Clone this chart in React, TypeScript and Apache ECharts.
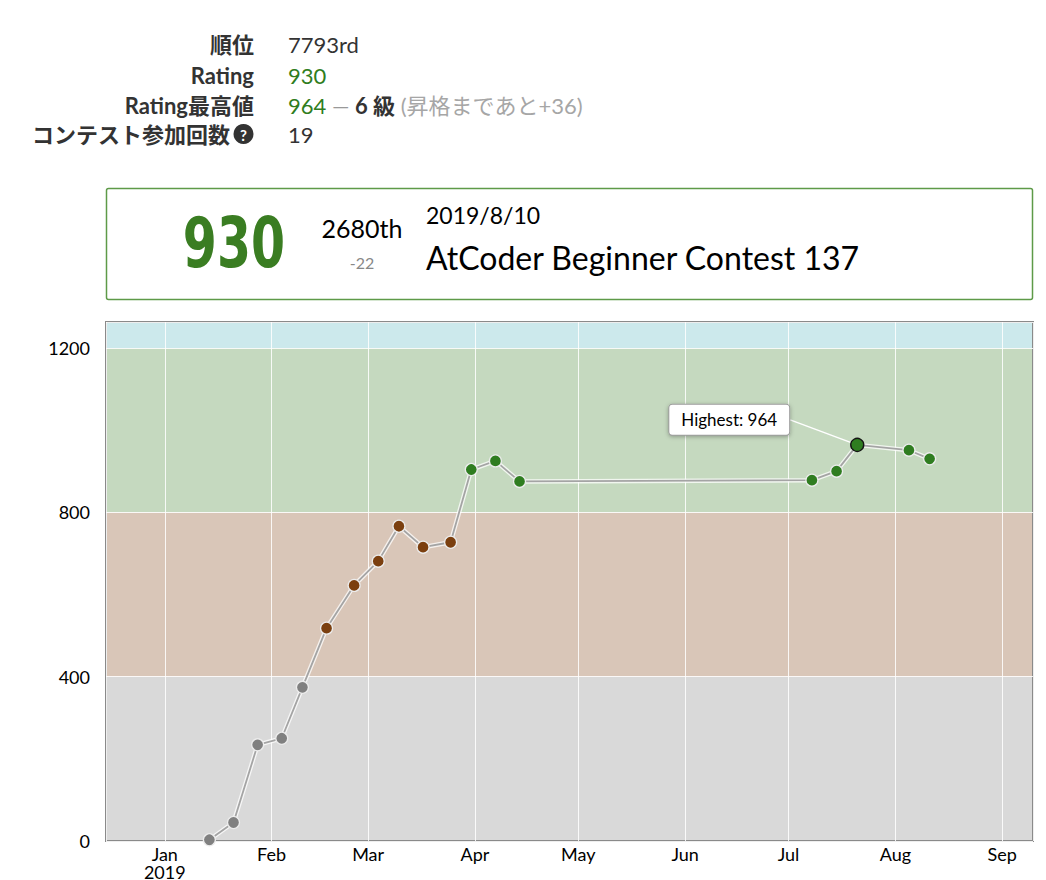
import React, { useEffect, useRef } from "react";
import * as echarts from "echarts";

// ---- data ----
const contestEnds = [
  "2019-01-13T22:40", "2019-01-20T22:40", "2019-01-27T22:40", "2019-02-03T22:40",
  "2019-02-09T22:40", "2019-02-16T22:40", "2019-02-24T22:40", "2019-03-03T22:40",
  "2019-03-09T22:40", "2019-03-16T22:40", "2019-03-24T22:40", "2019-03-30T22:40",
  "2019-04-06T22:40", "2019-04-13T22:40", "2019-07-07T19:00", "2019-07-14T22:40",
  "2019-07-20T22:40", "2019-08-04T22:40", "2019-08-10T22:40",
];
const ratings = [3, 45, 234, 250, 374, 518, 622, 681, 766, 715, 727, 904, 925, 875, 878, 900, 964, 951, 930];
const xRange = ["2018-12-14T22:40", "2019-09-09T22:40"];
const yRange = [0, 1263];
const yTickStep = 400;
const bandBounds = [0, 400, 800, 1200, 1263];
const bandColors = ["#d9d9d9", "#d9c6b8", "#c5d9bf", "#cce9ec"];
const dotColors = ["#808080", "#7b3f0f", "#2f7d20", "#00c0c0"];
const monthNames = ["Jan", "Feb", "Mar", "Apr", "May", "Jun", "Jul", "Aug", "Sep", "Oct", "Nov", "Dec"];

const infoLabels = ["順位", "Rating", "Rating最高値", "コンテスト参加回数"];
const rankText = "7793rd";
const currentRating = 930;
const highestRating = 964;
const kyuText = "6 級";
const toPromotion = 36;
const contestCount = 19;

const lastRating = 930;
const lastPlace = "2680th";
const lastDiff = "-22";
const lastDate = "2019/8/10";
const lastName = "AtCoder Beginner Contest 137";

const FONT = 'Lato, "Noto Sans CJK JP", sans-serif';
const GREEN = "#2f7d20";

function colorFor(v: number) {
  let i = 0;
  while (i < 3 && v >= bandBounds[i + 1]) i++;
  return dotColors[i];
}

export default function App() {
  const ref = useRef<HTMLDivElement>(null);
  useEffect(() => {
    if (!ref.current) return;
    const chart = echarts.init(ref.current, undefined, { renderer: "svg" });
    const hiIdx = ratings.indexOf(Math.max(...ratings));
    const lineData = contestEnds.map((d, i) => [new Date(d).getTime(), ratings[i]]);
    const dotData = contestEnds.map((d, i) => {
      const item: any = {
        value: [new Date(d).getTime(), ratings[i]],
        itemStyle: { color: colorFor(ratings[i]), borderColor: "#ececec", borderWidth: 1.3 },
      };
      if (i === hiIdx) {
        item.symbolSize = 13;
        item.itemStyle = { color: colorFor(ratings[i]), borderColor: "#141414", borderWidth: 1.4 };
        item.label = {
          show: true,
          position: "inside",
          formatter: (p: any) => "Highest: " + p.value[1],
          fontFamily: FONT,
          fontSize: 17,
          color: "#000",
          backgroundColor: "#fff",
          borderColor: "#9a9a9a",
          borderWidth: 1,
          borderRadius: 3,
          padding: [7, 12, 6, 12],
          shadowColor: "rgba(0,0,0,0.3)",
          shadowBlur: 4,
          shadowOffsetY: 1,
        };
        item.labelLine = { show: true, lineStyle: { color: "#ffffff", width: 1.5 } };
      }
      return item;
    });

    const rowY = [44, 75, 105, 134];
    const labelStyle = (text: string) => ({
      text,
      align: "right",
      verticalAlign: "middle",
      fontFamily: FONT,
      fontSize: 22,
      fontWeight: "bold",
      fill: "#333",
    });
    const valueStyle = (text: string, fill = "#333") => ({
      text,
      align: "left",
      verticalAlign: "middle",
      fontFamily: FONT,
      fontSize: 22,
      fill,
    });

    const graphics: any[] = [
      { type: "text", x: 254, y: rowY[0], style: labelStyle(infoLabels[0]) },
      { type: "text", x: 254, y: rowY[1], style: labelStyle(infoLabels[1]) },
      { type: "text", x: 254, y: rowY[2], style: labelStyle(infoLabels[2]) },
      { type: "text", x: 230, y: rowY[3], style: labelStyle(infoLabels[3]) },
      { type: "circle", shape: { cx: 243.5, cy: rowY[3], r: 10 }, style: { fill: "#333" } },
      {
        type: "text", x: 243.5, y: rowY[3] + 0.5,
        style: { text: "?", align: "center", verticalAlign: "middle", fontFamily: FONT, fontSize: 15, fontWeight: "bold", fill: "#fff" },
      },
      { type: "text", x: 288, y: rowY[0], style: valueStyle(rankText) },
      { type: "text", x: 288, y: rowY[1], style: valueStyle(String(currentRating), GREEN) },
      {
        type: "text", x: 288, y: rowY[2],
        style: {
          text: `{g|${highestRating}} {d|—} {b|${kyuText}} {l|(昇格まであと+${toPromotion})}`,
          align: "left",
          verticalAlign: "middle",
          fontFamily: FONT,
          fontSize: 22,
          rich: {
            g: { fontFamily: FONT, fontSize: 22, fill: GREEN, color: GREEN },
            d: { fontFamily: FONT, fontSize: 22, fill: "#999", color: "#999" },
            b: { fontFamily: FONT, fontSize: 22, fontWeight: "bold", fill: "#333", color: "#333" },
            l: { fontFamily: FONT, fontSize: 22, fill: "#a6a6a6", color: "#a6a6a6" },
          },
        },
      },
      { type: "text", x: 288, y: rowY[3], style: valueStyle(String(contestCount)) },

      // card
      {
        type: "rect",
        shape: { x: 106.5, y: 188.5, width: 926, height: 111, r: 2 },
        style: { fill: "#fff", stroke: "#5e9a48", lineWidth: 1.5 },
      },
      {
        type: "text", x: 234, y: 243, scaleX: 0.7,
        style: {
          text: String(lastRating), align: "center", verticalAlign: "middle",
          fontFamily: '"DejaVu Sans", sans-serif', fontWeight: "bold", fontSize: 70, fill: "#3a7d22",
        },
      },
      {
        type: "text", x: 362, y: 228,
        style: { text: lastPlace, align: "center", verticalAlign: "middle", fontFamily: FONT, fontSize: 25, fill: "#000" },
      },
      {
        type: "text", x: 362, y: 262,
        style: { text: lastDiff, align: "center", verticalAlign: "middle", fontFamily: FONT, fontSize: 16, fill: "#888" },
      },
      {
        type: "text", x: 426, y: 215,
        style: { text: lastDate, align: "left", verticalAlign: "middle", fontFamily: FONT, fontSize: 23, fill: "#000" },
      },
      {
        type: "text", x: 426, y: 257,
        style: { text: lastName, align: "left", verticalAlign: "middle", fontFamily: FONT, fontSize: 32, fill: "#000" },
      },
    ];

    chart.setOption({
      animation: false,
      grid: {
        left: 106, top: 322, right: 13, bottom: 39,
        containLabel: false,
        outerBoundsMode: "none",
        show: true, borderColor: "#8a8a8a", borderWidth: 2, backgroundColor: "transparent", z: 2,
      },
      xAxis: {
        type: "time",
        min: new Date(xRange[0]).getTime(),
        max: new Date(xRange[1]).getTime(),
        minInterval: 28 * 86400000,
        maxInterval: 31 * 86400000,
        z: 3,
        axisLine: { show: false },
        axisTick: { show: false },
        splitLine: { show: true, lineStyle: { color: "#ffffff", width: 1, opacity: 0.85 } },
        axisLabel: {
          showMinLabel: false,
          showMaxLabel: false,
          fontFamily: FONT,
          fontSize: 18,
          color: "#000",
          margin: 4,
          lineHeight: 18,
          formatter: (v: number) => {
            const d = new Date(v);
            const m = monthNames[d.getMonth()];
            return d.getMonth() === 0 ? m + "\n" + d.getFullYear() : m;
          },
        },
      },
      yAxis: {
        type: "value",
        min: yRange[0],
        max: yRange[1],
        interval: yTickStep,
        z: 3,
        axisLine: { show: false },
        axisTick: { show: false },
        splitLine: { show: true, lineStyle: { color: "#ffffff", width: 1, opacity: 0.85 } },
        axisLabel: {
          showMaxLabel: false,
          fontFamily: FONT,
          fontSize: 18,
          color: "#000",
          margin: 16,
          formatter: (v: number) => String(v),
        },
      },
      graphic: { elements: graphics },
      series: [
        {
          type: "line",
          data: lineData,
          z: 1,
          silent: true,
          symbol: "none",
          lineStyle: { opacity: 0 },
          markArea: {
            silent: true,
            z: 1,
            label: { show: false },
            data: bandColors.map((c, i) => [
              { yAxis: bandBounds[i], itemStyle: { color: c, opacity: 1 } },
              { yAxis: bandBounds[i + 1] },
            ]),
          },
        },
        {
          type: "line",
          data: lineData,
          z: 4,
          silent: true,
          symbol: "none",
          lineStyle: { color: "#ffffff", width: 4.5, opacity: 0.75 },
        },
        {
          type: "line",
          data: dotData,
          z: 5,
          silent: true,
          symbol: "circle",
          symbolSize: 12,
          showAllSymbol: true,
          lineStyle: { color: "#a4a4a4", width: 1.8 },
          labelLayout: (p: any) => (p.dataIndex === hiIdx ? { dx: -128, dy: -25 } : {}),
        },
      ],
    });
    return () => chart.dispose();
  }, []);
  return (
    <div
      ref={ref}
      style={{ position: "absolute", left: 0, top: 0, width: 1046, height: 880, background: "#fff" }}
    />
  );
}
